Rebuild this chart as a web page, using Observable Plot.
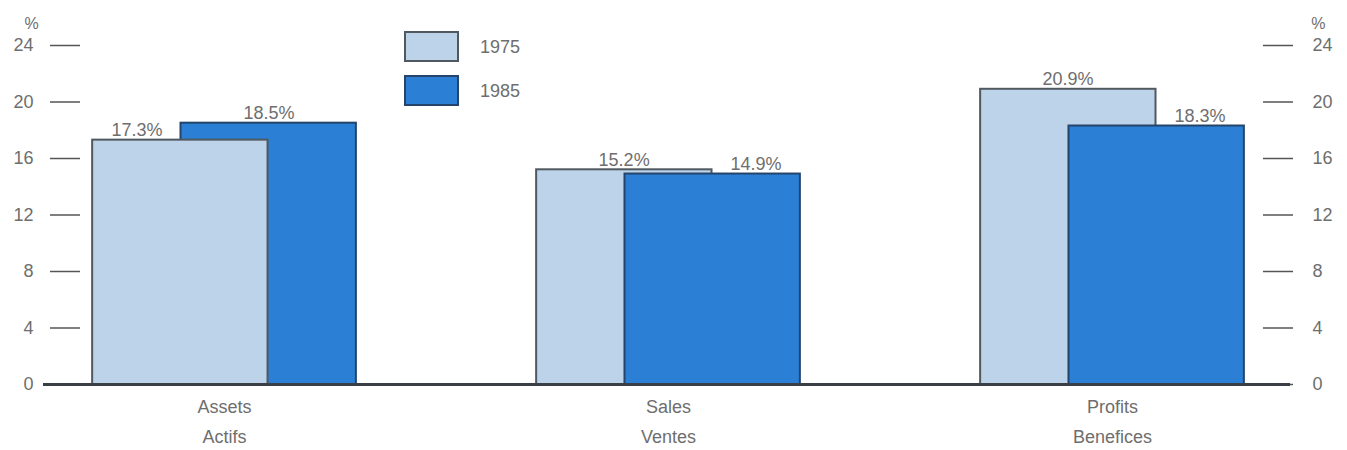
<!DOCTYPE html>
<html>
<head>
<meta charset="utf-8">
<script src="https://cdn.jsdelivr.net/npm/d3@7"></script>
<script src="https://cdn.jsdelivr.net/npm/@observablehq/plot@0.6"></script>
<style>
  html, body { margin: 0; padding: 0; background: #ffffff; }
  #wrap { position: relative; width: 1347px; height: 450px; font-family: "Liberation Sans", Arial, sans-serif; }
  .lg-box { position: absolute; box-sizing: border-box; width: 55px; height: 31px; }
  .lg-text { position: absolute; font-size: 18px; color: #6e6e6e; line-height: 20px; }
</style>
</head>
<body>
<div id="wrap"></div>
<script>
// ---- data ----
const categories = ["Assets", "Sales", "Profits"];
const categoriesFr = ["Actifs", "Ventes", "Benefices"];
const years = ["1975", "1985"];
const values1975 = [17.3, 15.2, 20.9];
const values1985 = [18.5, 14.9, 18.3];
const yTicks = [0, 4, 8, 12, 16, 20, 24];
const colors = ["#bdd3ea", "#2b7fd5"];
const strokes = ["#505860", "#24446a"];

// ---- build table ----
const rows = [];
categories.forEach((c, i) => {
  rows.push({i, cat: c, year: years[0], value: values1975[i], other: values1985[i]});
  rows.push({i, cat: c, year: years[1], value: values1985[i], other: values1975[i]});
});
// taller bars drawn first so the shorter one sits on top
rows.sort((a, b) => b.value - a.value);

const isEarly = d => d.year === years[0];
const barL = d => d.i + (isEarly(d) ? -0.297 : -0.098);
const barR = d => d.i + (isEarly(d) ? 0.098 : 0.297);
const labelX = d => {
  const taller = d.value >= d.other;
  if (isEarly(d)) return d.i + (taller ? -0.1 : -0.197);
  return d.i + (taller ? 0.1 : 0.197);
};

const font = "Liberation Sans, Arial, sans-serif";
const textColor = "#6e6e6e";

const chart = Plot.plot({
  width: 1347,
  height: 450,
  marginTop: 45,
  marginBottom: 66,
  marginLeft: 43,
  marginRight: 57,
  style: {fontFamily: font, fontSize: "18px", color: textColor, background: "#ffffff"},
  x: {type: "linear", domain: [-0.4077, 2.4009], axis: null},
  y: {domain: [0, 24], axis: null},
  color: {domain: years, range: colors},
  marks: [
    Plot.axisY(yTicks, {anchor: "left", tickSize: 30, dx: 37, tickPadding: 17, stroke: "#555", strokeWidth: 1.5, fill: textColor, fontSize: 18, label: null}),
    Plot.axisY(yTicks, {anchor: "right", tickSize: 30, dx: -28, tickPadding: 20, stroke: "#555", strokeWidth: 1.5, fill: textColor, fontSize: 18, label: null}),
    Plot.rectY(rows, {
      x1: barL, x2: barR, y1: 0, y2: "value",
      fill: d => colors[years.indexOf(d.year)],
      stroke: d => strokes[years.indexOf(d.year)],
      strokeWidth: 2
    }),
    Plot.ruleY([0], {stroke: "#3a3f45", strokeWidth: 3}),
    Plot.text(rows, {
      x: labelX, y: "value",
      text: d => d.value.toFixed(1) + "%",
      lineAnchor: "bottom", dy: -4, fill: textColor, fontSize: 18
    }),
    Plot.text(categories, {x: (d, i) => i, frameAnchor: "bottom", dy: 28, text: d => d, fill: textColor, fontSize: 18}),
    Plot.text(categoriesFr, {x: (d, i) => i, frameAnchor: "bottom", dy: 58, text: d => d, fill: textColor, fontSize: 18}),
    Plot.text(["%"], {frameAnchor: "top-left", dx: -19, dy: -28, fill: textColor, fontSize: 16}),
    Plot.text(["%"], {frameAnchor: "top-right", dx: 35, dy: -28, fill: textColor, fontSize: 16})
  ]
});

const wrap = document.getElementById("wrap");
wrap.appendChild(chart);

// legend
const legendTops = [31, 75];
years.forEach((y, k) => {
  const box = document.createElement("div");
  box.className = "lg-box";
  box.style.left = "404px";
  box.style.top = legendTops[k] + "px";
  box.style.background = colors[k];
  box.style.border = "2px solid " + strokes[k];
  wrap.appendChild(box);
  const t = document.createElement("div");
  t.className = "lg-text";
  t.style.left = "480px";
  t.style.top = (legendTops[k] + 6) + "px";
  t.textContent = y;
  wrap.appendChild(t);
});
</script>
</body>
</html>
